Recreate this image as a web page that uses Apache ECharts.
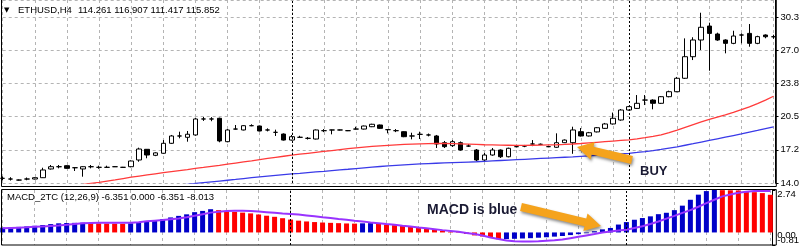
<!DOCTYPE html>
<html><head><meta charset="utf-8">
<script src="https://cdn.jsdelivr.net/npm/echarts@6/dist/echarts.min.js"></script>
<style>html,body{margin:0;padding:0;background:#fff}#c{width:802px;height:247px}</style>
</head><body><div id="c"></div>
<script>
// [open, close, low, high]
const candles = [
[14.44,14.44,14.25,14.62],[14.37,14.37,14.22,14.55],[14.27,14.27,14.22,14.33],[14.37,14.37,14.25,14.52],
[14.37,14.50,14.33,14.55],[14.50,15.26,14.47,15.48],[15.36,15.58,15.30,15.75],[15.58,15.58,15.42,15.75],
[15.68,15.42,15.38,15.72],[15.48,15.48,15.16,15.52],[15.36,15.58,14.60,15.62],[15.58,15.58,15.42,15.75],
[15.52,15.52,15.38,15.68],[15.52,15.52,15.48,15.68],[15.58,15.58,15.55,15.62],[15.52,15.52,15.48,15.56],
[15.58,16.14,15.52,16.20],[16.24,17.32,16.07,17.45],[17.29,16.73,16.41,17.32],[16.70,16.94,16.62,17.00],
[16.90,17.88,16.85,18.20],[17.88,18.60,17.82,18.70],[18.60,18.60,18.37,19.02],[18.47,18.77,18.04,19.09],
[18.70,20.27,18.62,20.39],[20.27,20.27,20.08,20.47],[20.27,20.27,20.05,20.45],[20.34,18.11,17.98,20.40],
[18.04,19.19,17.98,19.28],[19.28,19.28,19.24,19.68],[19.19,19.61,19.15,19.66],[19.61,19.61,19.56,19.75],
[19.58,19.09,19.05,19.62],[19.19,19.19,19.05,19.35],[18.96,18.96,18.60,19.22],[18.79,18.20,18.15,18.85],
[18.20,18.53,18.15,18.70],[18.47,18.47,18.43,18.62],[18.37,18.37,18.25,18.50],[18.30,19.19,18.26,19.24],
[19.12,19.12,18.98,19.28],[19.19,19.19,18.76,19.22],[19.19,19.19,19.15,19.23],[19.12,19.12,19.08,19.16],
[19.28,19.28,19.24,19.51],[19.28,19.58,19.24,19.62],[19.51,19.75,19.47,19.80],[19.68,19.35,19.30,19.72],
[19.22,19.22,18.86,19.26],[19.12,19.12,18.98,19.28],[19.02,18.53,18.48,19.06],[18.60,18.60,18.27,18.92],
[18.76,18.76,18.30,19.02],[18.70,18.70,18.56,18.84],[18.60,17.81,17.42,18.70],[17.94,17.55,17.42,18.11],
[17.65,18.04,17.52,18.20],[17.94,17.22,17.16,18.06],[17.61,17.61,17.52,17.81],[17.22,16.24,16.14,17.32],
[16.24,16.73,16.07,16.93],[16.73,17.22,16.66,17.42],[17.22,16.56,16.44,17.28],[16.56,17.39,16.50,17.45],
[17.55,17.55,17.48,17.62],[17.61,17.61,17.50,17.72],[17.81,17.81,17.60,18.20],[17.78,17.78,17.70,17.86],
[17.55,17.55,17.50,17.62],[17.49,17.94,17.44,18.86],[17.94,18.20,17.90,18.26],[17.94,19.19,16.85,19.51],
[19.02,18.60,18.55,19.38],[18.60,18.92,18.55,19.00],[19.00,19.41,18.95,19.48],[19.35,19.78,19.30,19.88],
[19.78,20.34,19.72,20.90],[20.17,21.15,20.10,21.25],[21.15,21.48,21.10,21.55],[21.31,21.81,21.25,22.62],
[22.13,22.13,21.64,22.62],[22.13,21.81,21.22,22.20],[21.81,22.46,21.75,22.52],[22.46,22.95,22.40,23.05],
[22.95,24.27,22.90,24.40],[24.27,26.39,24.20,28.19],[26.39,28.03,26.06,28.30],[28.03,29.28,27.05,30.71],
[29.40,28.68,25.01,29.73],[28.62,28.03,27.95,28.75],[28.03,27.70,26.72,28.10],[27.70,28.42,27.62,28.94],
[28.52,28.52,27.70,28.68],[28.68,27.70,27.37,29.60],[27.70,28.36,27.62,28.45],[28.52,28.35,28.20,28.58],
[28.35,28.35,28.15,28.55]
];
const maRed = [
13.00,13.10,13.20,13.30,13.40,13.50,13.58,13.65,13.72,13.78,13.85,13.95,14.05,14.17,14.29,14.42,
14.55,14.66,14.77,14.88,14.99,15.10,15.20,15.30,15.41,15.51,15.62,15.72,15.83,15.94,16.05,16.16,
16.28,16.39,16.50,16.61,16.72,16.81,16.90,16.99,17.08,17.17,17.26,17.35,17.43,17.50,17.57,17.63,
17.68,17.73,17.77,17.80,17.83,17.85,17.86,17.86,17.85,17.83,17.80,17.77,17.74,17.72,17.70,17.69,
17.68,17.68,17.69,17.70,17.72,17.74,17.77,17.81,17.86,17.92,17.98,18.04,18.10,18.16,18.22,18.32,
18.43,18.56,18.70,18.92,19.18,19.45,19.72,19.98,20.22,20.45,20.68,20.92,21.18,21.46,21.78,22.12,22.50
];
const maBlue = [
12.05,12.13,12.21,12.29,12.37,12.45,12.53,12.61,12.69,12.77,12.85,12.93,13.01,13.09,13.17,13.25,
13.33,13.41,13.49,13.56,13.63,13.70,13.77,13.85,13.93,14.01,14.09,14.17,14.25,14.33,14.42,14.50,
14.58,14.66,14.73,14.80,14.87,14.93,15.00,15.07,15.13,15.20,15.27,15.33,15.40,15.47,15.54,15.60,
15.66,15.72,15.77,15.81,15.85,15.89,15.92,15.95,15.98,16.01,16.04,16.07,16.11,16.15,16.19,16.23,
16.27,16.31,16.35,16.39,16.43,16.47,16.51,16.55,16.60,16.65,16.70,16.75,16.80,16.85,16.90,16.98,
17.07,17.17,17.28,17.41,17.54,17.69,17.84,18.00,18.16,18.32,18.48,18.64,18.80,18.97,19.14,19.32,19.50
];
const macdHist = [
0.31,0.33,0.36,0.39,0.43,0.48,0.54,0.59,0.61,0.62,0.63,0.61,0.59,0.58,0.57,0.56,
0.59,0.64,0.70,0.78,0.86,0.97,1.07,1.17,1.31,1.39,1.50,1.44,1.38,1.33,1.28,1.23,
1.16,1.08,1.01,0.92,0.83,0.76,0.71,0.67,0.64,0.62,0.60,0.58,0.57,0.59,0.60,0.55,
0.51,0.47,0.42,0.37,0.31,0.25,0.18,0.11,0.04,-0.03,-0.10,-0.19,-0.26,-0.33,-0.44,-0.43,
-0.41,-0.39,-0.37,-0.34,-0.31,-0.27,-0.23,-0.17,-0.11,-0.05,0.08,0.20,0.29,0.51,0.67,0.82,
0.93,1.04,1.18,1.27,1.44,1.73,2.11,2.44,2.67,2.74,2.73,2.72,2.71,2.65,2.60,2.54,2.43
];
const macdColor = [
'B','B','B','B','B','B','B','B','B','B','B','R','R','R','R','R',
'B','B','B','B','B','B','B','B','B','B','B','R','R','R','R','R',
'R','R','R','R','R','R','R','R','R','R','R','R','R','B','B','R',
'R','R','R','R','R','R','R','R','R','R','R','R','R','R','R','B',
'B','B','B','B','B','B','B','B','B','B','B','B','B','B','B','B',
'B','B','B','B','B','B','B','B','B','B','R','R','R','R','R','R','R'
];
const macdSignal = [
0.27,0.29,0.31,0.33,0.36,0.39,0.42,0.45,0.49,0.54,0.59,0.61,0.62,0.62,0.62,0.62,
0.63,0.66,0.72,0.76,0.80,0.85,0.90,0.98,1.08,1.18,1.28,1.34,1.38,1.40,1.40,1.38,
1.35,1.31,1.27,1.22,1.19,1.16,1.10,1.04,0.98,0.93,0.87,0.82,0.76,0.71,0.65,0.60,
0.54,0.49,0.43,0.38,0.32,0.27,0.21,0.15,0.10,0.04,-0.03,-0.10,-0.20,-0.32,-0.42,-0.52,
-0.57,-0.58,-0.58,-0.56,-0.53,-0.50,-0.46,-0.37,-0.28,-0.19,-0.10,0.00,0.06,0.12,0.18,0.29,
0.40,0.55,0.71,0.89,1.07,1.26,1.44,1.66,1.89,2.11,2.33,2.45,2.56,2.62,2.67,2.68,2.68
];
const separators = ['36','78'];
const categories = candles.map((_, i) => String(i));

const FONT = '"Liberation Sans", Arial, sans-serif';
const gridLine = {show:true, interval:(i)=> i % 4 === 0, lineStyle:{color:'#b4b4b4', type:[3,3], width:1}};
const chart = echarts.init(document.getElementById('c'), null, {renderer:'canvas'});
chart.setOption({
  animation:false,
  textStyle:{fontFamily:FONT},
  grid:[
    {left:2.7, right:27.7, top:0, height:183},
    {left:2.7, right:27.7, top:190, height:55}
  ],
  xAxis:[
    {type:'category', gridIndex:0, data:categories, boundaryGap:false,
     axisLine:{show:false}, axisTick:{show:false}, axisLabel:{show:false}, splitLine:gridLine},
    {type:'category', gridIndex:1, data:categories, boundaryGap:false,
     axisLine:{show:false}, axisTick:{show:false}, axisLabel:{show:false}, splitLine:gridLine}
  ],
  yAxis:[
    {type:'value', gridIndex:0, position:'right', offset:2, min:13.98, max:31.96, interval:3.26,
     axisLine:{show:true, lineStyle:{color:'#000'}}, axisTick:{show:true, length:3, lineStyle:{color:'#000'}},
     axisLabel:{color:'#000', fontSize:9.5, fontFamily:FONT, margin:5, showMaxLabel:false, formatter:v=>v.toFixed(1)},
     splitLine:{show:true, lineStyle:{color:'#b4b4b4', type:[3,3], width:1}}},
    {type:'value', gridIndex:1, position:'right', offset:2, min:-0.81, max:2.74, interval:3.55,
     axisLine:{show:true, lineStyle:{color:'#000'}}, axisTick:{show:true, length:3, lineStyle:{color:'#000'}},
     axisLabel:{color:'#000', fontSize:9.5, fontFamily:FONT, margin:5,
       formatter:v=> v > 0 ? '{t|' + v.toFixed(2) + '}' : '{b|' + v.toFixed(2) + '}',
       rich:{t:{padding:[8,0,0,0], fontSize:9.5, fontFamily:FONT, color:'#000'}, b:{padding:[0,0,9,0], fontSize:9.5, fontFamily:FONT, color:'#000'}}},
     splitLine:{show:false}}
  ],
  series:[
    {type:'candlestick', xAxisIndex:0, yAxisIndex:0, data:candles, barWidth:5, z:3,
     itemStyle:{color:'#ffffff', color0:'#000000', borderColor:'#000000', borderColor0:'#000000', borderWidth:1},
     markLine:{silent:true, symbol:'none', label:{show:false},
       lineStyle:{color:'#000', type:[2,2], width:1},
       data: separators.map(s => ({xAxis:s}))}},
    {type:'line', xAxisIndex:0, yAxisIndex:0, data:maRed, showSymbol:false, z:4,
     lineStyle:{color:'#ff3a3a', width:1.3}},
    {type:'line', xAxisIndex:0, yAxisIndex:0, data:maBlue, showSymbol:false, z:4,
     lineStyle:{color:'#3a3ae8', width:1.3}},
    {type:'bar', xAxisIndex:1, yAxisIndex:1, barWidth:5, z:3,
     data: macdHist.map((v,i)=>({value:v, itemStyle:{color: macdColor[i]==='B' ? '#0000c8' : '#ff0000'}})),
     markLine:{silent:true, symbol:'none',
       data:[
         ...separators.map(s => ({xAxis:s, label:{show:false}, lineStyle:{color:'#000', type:[2,2], width:1}})),
         {yAxis:0, lineStyle:{color:'rgba(0,0,0,0)', width:1},
          label:{show:true, position:'end', distance:7, color:'#000', fontSize:9.5, fontFamily:FONT,
            formatter:'{z|0.00}',
            rich:{z:{padding:[5,0,0,0], fontSize:9.5, fontFamily:FONT, color:'#000'}}}}
       ]}},
    {type:'line', xAxisIndex:1, yAxisIndex:1, data:macdSignal, showSymbol:false, z:4,
     lineStyle:{color:'#9933ff', width:2}}
  ],
  graphic:[
    {type:'rect', silent:true, z:100, shape:{x:1.5, y:-0.5, width:774.8, height:187}, style:{fill:'none', stroke:'#000', lineWidth:1}},
    {type:'rect', silent:true, z:100, shape:{x:1.5, y:189.5, width:774.8, height:55.5}, style:{fill:'none', stroke:'#000', lineWidth:1}},
    {type:'polygon', silent:true, z:110,
     shape:{points:[[632.9,156.1],[593.5,146.8],[594.7,141.9],[577,147],[590.5,159.5],[591.7,154.6],[631.1,163.9]]},
     style:{fill:'#f5a31c', shadowBlur:3, shadowColor:'rgba(0,0,0,0.45)', shadowOffsetX:1, shadowOffsetY:2}},
    {type:'polygon', silent:true, z:110,
     shape:{points:[[521.9,203.1],[586.3,218.4],[587.5,213.5],[601,226],[583.3,231.1],[584.5,226.2],[520.1,210.9]]},
     style:{fill:'#f5a31c', shadowBlur:3, shadowColor:'rgba(0,0,0,0.45)', shadowOffsetX:1, shadowOffsetY:2}},
    {type:'text', silent:true, z:110, x:640, y:171, style:{text:'BUY', font:'bold 13px "Liberation Sans", Arial, sans-serif', fill:'#1a1a33', verticalAlign:'middle'}},
    {type:'text', silent:true, z:110, x:427, y:210, style:{text:'MACD is blue', font:'bold 14px "Liberation Sans", Arial, sans-serif', fill:'#1a1a33', verticalAlign:'middle'}},
    {type:'text', silent:true, z:110, x:4, y:10, style:{text:'▼', font:'7px "DejaVu Sans", sans-serif', fill:'#000', verticalAlign:'middle'}},
    {type:'text', silent:true, z:110, x:18, y:10, style:{text:'ETHUSD,H4', font:'9.5px "Liberation Sans", Arial, sans-serif', fill:'#000', verticalAlign:'middle'}},
    {type:'text', silent:true, z:110, x:78, y:10, style:{text:'114.261 116.907 111.417 115.852', font:'9.5px "Liberation Sans", Arial, sans-serif', fill:'#000', verticalAlign:'middle'}},
    {type:'text', silent:true, z:110, x:7, y:197, style:{text:'MACD_2TC (12,26,9) -6.351 0.000 -6.351 -8.013', font:'9.5px "Liberation Sans", Arial, sans-serif', fill:'#000', verticalAlign:'middle'}}
  ]
});
</script></body></html>
